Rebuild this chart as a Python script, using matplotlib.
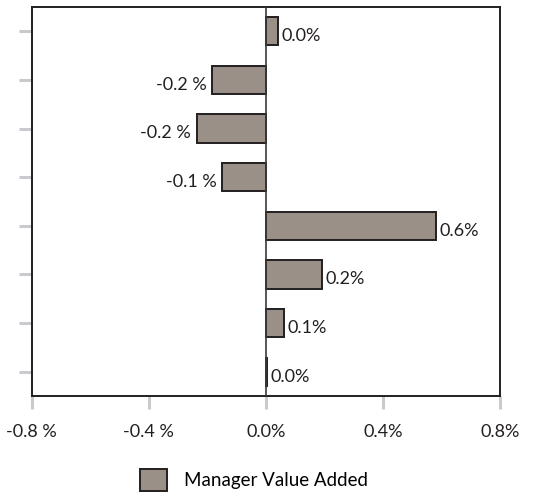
import numpy as np
import matplotlib
matplotlib.use("Agg")
import matplotlib.pyplot as plt
from matplotlib.patches import Patch

plt.rcParams['font.family'] = ['Lato', 'DejaVu Sans']

# value added per period, in percent (top bar first)
periods = ['P1', 'P2', 'P3', 'P4', 'P5', 'P6', 'P7', 'P8']
value_added = [0.042, -0.184, -0.237, -0.149, 0.581, 0.193, 0.063, 0.005]
x_ticks = [-0.8, -0.4, 0.0, 0.4, 0.8]
x_tick_labels = ['-0.8 %', '-0.4 %', '0.0%', '0.4%', '0.8%']

bar_color = '#9b9087'
edge_color = '#231f20'
tick_color = '#c9cacd'

fig = plt.figure(figsize=(5.4, 4.98), dpi=100)
ax = fig.add_axes([0.0587, 0.2048, 0.8674, 0.7811])

y = np.arange(len(periods))
bars = ax.barh(y, value_added, height=0.58, color=bar_color,
               edgecolor=edge_color, linewidth=1.4, zorder=2)

# bar labels: negatives get a space before the percent sign
for rect, v in zip(bars, value_added):
    yc = rect.get_y() + rect.get_height() / 2
    if v < 0:
        ax.annotate(f'{v:.1f} %', (v, yc), xytext=(-4, -3.5), textcoords='offset points',
                    ha='right', va='center', fontsize=13, color='#231f20')
    else:
        ax.annotate(f'{v:.1f}%', (v, yc), xytext=(2.5, -3.5), textcoords='offset points',
                    ha='left', va='center', fontsize=13, color='#231f20')

ax.axvline(0, color='#3a3a3a', linewidth=1.2, zorder=3)

ax.set_xlim(-0.8, 0.8)
ax.set_ylim(len(periods) - 0.5, -0.5)
ax.set_xticks(x_ticks)
ax.set_xticklabels(x_tick_labels, fontsize=13, color='#231f20')
ax.set_yticks(y)
ax.set_yticklabels([])

ax.tick_params(axis='x', direction='out', length=9, width=2.2, color=tick_color, pad=11)
ax.tick_params(axis='y', direction='out', length=9.5, width=2.2, color=tick_color)

for side in ax.spines.values():
    side.set_linewidth(1.4)
    side.set_color(edge_color)

handle = Patch(facecolor=bar_color, edgecolor=edge_color, linewidth=1.4,
               label='Manager Value Added')
fig.legend(handles=[handle], loc='center', bbox_to_anchor=(0.47, 0.036),
           frameon=False, fontsize=13.5, handlelength=1.44, handleheight=1.44,
           handletextpad=0.9)

fig.savefig('out.png', dpi=100)
